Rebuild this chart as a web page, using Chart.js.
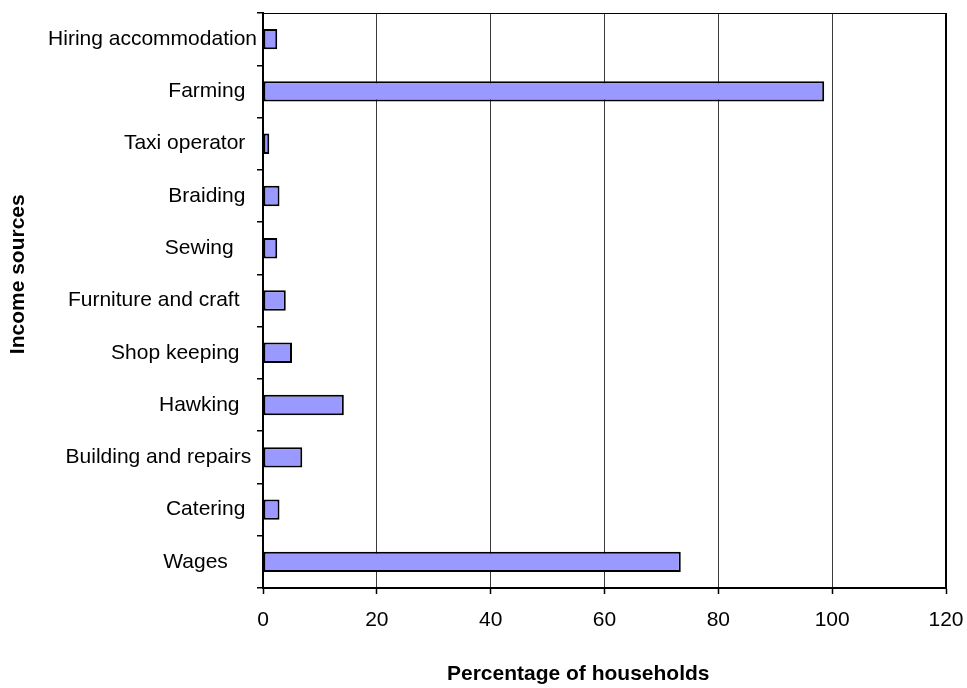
<!DOCTYPE html>
<html>
<head>
<meta charset="utf-8">
<script src="https://cdn.jsdelivr.net/npm/chart.js@4/dist/chart.umd.min.js"></script>
<style>
  html, body { margin: 0; padding: 0; background: #fff; }
  #wrap { width: 967px; height: 688px; position: relative; }
</style>
</head>
<body>
<div id="wrap"><canvas id="c" width="967" height="688"></canvas></div>
<script>
// Income sources (top to bottom), with the padding spaces kept from the source labels
const categories = [
  'Hiring accommodation',
  'Farming  ',
  'Taxi operator  ',
  'Braiding  ',
  'Sewing    ',
  'Furniture and craft   ',
  'Shop keeping   ',
  'Hawking   ',
  'Building and repairs ',
  'Catering  ',
  'Wages     '
];

// Percentage of households reporting each income source
const householdShare = [2.5, 98.6, 1.1, 2.9, 2.5, 4.0, 5.1, 14.2, 6.9, 2.9, 73.4];

// Percentage axis ticks
const percentTicks = [0, 20, 40, 60, 80, 100, 120];

// Axis titles, padded as in the source workbook
const xTitle = 'Percentage of households         ';
const yTitle = '         Income sources';

const FONT = '"Liberation Sans", Arial, sans-serif';

// Frame the plotting area on its top and right sides
const plotFrame = {
  id: 'plotFrame',
  afterDraw(chart) {
    const { ctx, chartArea: a } = chart;
    ctx.save();
    ctx.strokeStyle = '#000';
    ctx.lineWidth = 1.2;
    ctx.beginPath();
    ctx.moveTo(a.left, a.top + 0.5);
    ctx.lineTo(a.right, a.top + 0.5);
    ctx.stroke();
    ctx.lineWidth = 2;
    ctx.beginPath();
    ctx.moveTo(a.right, a.top);
    ctx.lineTo(a.right, a.bottom);
    ctx.stroke();
    ctx.restore();
  }
};

new Chart(document.getElementById('c'), {
  type: 'bar',
  data: {
    labels: categories,
    datasets: [{
      data: householdShare,
      backgroundColor: '#9999FF',
      borderColor: '#000',
      borderWidth: 2,
      borderSkipped: false,
      categoryPercentage: 1,
      barPercentage: 0.39
    }]
  },
  options: {
    indexAxis: 'y',
    responsive: false,
    animation: false,
    layout: { padding: { left: 0, right: 21, top: 13, bottom: 0 } },
    plugins: {
      legend: { display: false },
      tooltip: { enabled: false }
    },
    scales: {
      x: {
        type: 'linear',
        min: percentTicks[0],
        max: percentTicks[percentTicks.length - 1],
        afterBuildTicks(scale) {
          scale.ticks = percentTicks.map(v => ({ value: v }));
        },
        afterFit(scale) {
          scale.height = 100;
          scale.paddingLeft = 0;
          scale.paddingRight = 0;
        },
        grid: {
          color: '#3a3a3a',
          lineWidth: 1,
          tickLength: 6,
          tickColor: '#000',
          tickWidth: 1.5
        },
        border: { color: '#000', width: 2 },
        ticks: {
          color: '#000',
          padding: 14,
          maxRotation: 0,
          font: { family: FONT, size: 21 }
        },
        title: {
          display: true,
          text: xTitle,
          color: '#000',
          padding: { top: 0, bottom: 1 },
          font: { family: FONT, size: 21, weight: 'bold' }
        }
      },
      y: {
        type: 'category',
        afterFit(scale) {
          scale.width = 263;
          scale.paddingTop = 0;
          scale.paddingBottom = 0;
        },
        grid: {
          offset: true,
          drawOnChartArea: false,
          tickLength: 6,
          color: '#000',
          lineWidth: 1.5
        },
        border: { color: '#000', width: 2 },
        ticks: {
          color: '#000',
          padding: 0,
          autoSkip: false,
          font: { family: FONT, size: 21 }
        },
        title: {
          display: true,
          text: yTitle,
          color: '#000',
          padding: { top: 6, bottom: 0 },
          font: { family: FONT, size: 21, weight: 'bold' }
        }
      }
    }
  },
  plugins: [plotFrame]
});
</script>
</body>
</html>
